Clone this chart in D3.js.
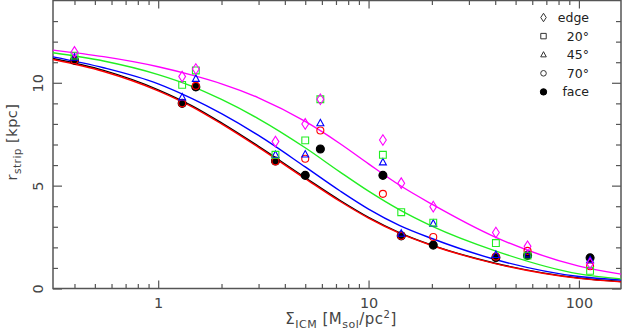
<html>
<head>
<meta charset="utf-8">
<script src="https://cdn.jsdelivr.net/npm/d3@7"></script>
<style>
body { margin: 0; background: #ffffff; }
svg { display: block; }
text { font-family: "DejaVu Sans", sans-serif; fill: #444444; }
.tick line { stroke: #555555; stroke-width: 1.2; }
.axis text { font-size: 14.4px; }
.legend text { font-size: 12.5px; fill: #222222; }
</style>
</head>
<body>
<div class="target"></div>
<script>
// measured points: surface density of ICM (M_sol/pc^2) and stripping radius (kpc)
var sigmaICM = [0.40, 1.30, 1.51, 3.61, 5.0, 5.9, 11.7, 14.3, 20.3, 40.3, 57, 113];
var rEdge = [11.50, 10.30, 10.67, 7.14, 8.00, 9.20, 7.22, 5.12, 3.98, 2.72, 2.05, 1.22];
var r20 = [11.32, 9.90, 10.60, 6.50, 7.20, 9.20, 6.50, 3.71, 3.20, 2.21, 1.60, 0.86];
var r45 = [11.23, 9.30, 10.20, 6.50, 6.52, 8.04, 6.14, 2.67, 3.16, 1.64, 1.66, 1.38];
var r70 = [11.10, 9.00, 9.85, 6.18, 6.31, 7.68, 4.60, 2.56, 2.50, 1.55, 1.83, 1.08];
var rFace = [11.10, 9.00, 9.80, 6.20, 5.50, 6.78, 5.50, 2.56, 2.11, 1.51, 1.61, 1.49];

var fitSigma = [0.3162, 0.55, 1, 1.45, 2, 3, 5, 7.3, 10, 14, 20, 40, 100, 158.5];
var fitEdge = [11.59, 11.27, 10.78, 10.37, 9.95, 9.27, 8.12, 7.05, 6.06, 5.03, 4.10, 2.50, 1.09, 0.70];
var fit20 = [11.46, 11.06, 10.40, 9.83, 9.19, 8.25, 6.84, 5.67, 4.73, 3.83, 3.03, 1.83, 0.71, 0.47];
var fit45 = [11.26, 10.73, 9.95, 9.23, 8.50, 7.44, 5.91, 4.75, 3.86, 3.07, 2.43, 1.41, 0.58, 0.41];
var fit70 = [11.13, 10.55, 9.61, 8.83, 8.00, 6.86, 5.34, 4.24, 3.42, 2.69, 2.09, 1.21, 0.49, 0.32];
var fitFace = [11.18, 10.60, 9.66, 8.88, 8.05, 6.91, 5.39, 4.29, 3.46, 2.72, 2.11, 1.23, 0.51, 0.34];

var legendLabels = ["edge", "20°", "45°", "70°", "face"];
var xMajor = [1, 10, 100];
var xMinor = [0.4, 0.5, 0.6, 0.7, 0.8, 0.9, 2, 3, 4, 5, 6, 7, 8, 9, 20, 30, 40, 50, 60, 70, 80, 90];
var yMajor = [0, 5, 10];
var yMinor = [1, 2, 3, 4, 6, 7, 8, 9, 11, 12, 13];

var width = 622, height = 336;
var plotL = 53, plotR = 621, plotT = 0.5, plotB = 288.5;

var svg = d3.select(".target").append("svg")
  .attr("width", width)
  .attr("height", height);

var x = d3.scaleLog().domain([0.3162, 158.5]).range([plotL, plotR]);
var y = d3.scaleLinear().domain([0, 14]).range([plotB, plotT]);

// drawn back to front: face first, edge last
var series = [
  {r: rFace, fit: fitFace, color: "#000000", sym: "dot"},
  {r: r70, fit: fit70, color: "#ff0000", sym: "circle"},
  {r: r45, fit: fit45, color: "#0000ff", sym: "triangle"},
  {r: r20, fit: fit20, color: "#22ee22", sym: "square"},
  {r: rEdge, fit: fitEdge, color: "#ff00ff", sym: "diamond"}
];

// axes
function drawAxis(axis, tx, ty, cls) {
  var g = svg.append("g")
    .attr("class", "axis " + cls)
    .attr("transform", "translate(" + tx + "," + ty + ")")
    .call(axis);
  g.select(".domain").remove();
  return g;
}

drawAxis(d3.axisBottom(x).tickValues(xMajor).tickSizeInner(-8).tickSizeOuter(0).tickPadding(9)
  .tickFormat(d3.format("d")), 0, plotB, "xb");
drawAxis(d3.axisBottom(x).tickValues(xMinor).tickSizeInner(-4.5).tickSizeOuter(0).tickFormat(""), 0, plotB, "xbm");
drawAxis(d3.axisTop(x).tickValues(xMajor).tickSizeInner(-8).tickSizeOuter(0).tickFormat(""), 0, plotT, "xt");
drawAxis(d3.axisTop(x).tickValues(xMinor).tickSizeInner(-4.5).tickSizeOuter(0).tickFormat(""), 0, plotT, "xtm");

var yl = drawAxis(d3.axisLeft(y).tickValues(yMajor).tickSizeInner(-9).tickSizeOuter(0), plotL, 0, "yl");
yl.selectAll("text")
  .attr("x", null)
  .attr("dy", null)
  .attr("text-anchor", "middle")
  .attr("transform", "translate(-10,0) rotate(-90)");
drawAxis(d3.axisLeft(y).tickValues(yMinor).tickSizeInner(-5).tickSizeOuter(0).tickFormat(""), plotL, 0, "ylm");
drawAxis(d3.axisRight(y).tickValues(yMajor).tickSizeInner(-9).tickSizeOuter(0).tickFormat(""), plotR, 0, "yr");
drawAxis(d3.axisRight(y).tickValues(yMinor).tickSizeInner(-5).tickSizeOuter(0).tickFormat(""), plotR, 0, "yrm");

svg.append("rect")
  .attr("x", plotL)
  .attr("y", plotT)
  .attr("width", plotR - plotL)
  .attr("height", plotB - plotT)
  .attr("fill", "none")
  .attr("stroke", "#555555")
  .attr("stroke-width", 1.5);

// fitted curves
var line = d3.line()
  .x(function(d) { return x(d[0]); })
  .y(function(d) { return y(d[1]); })
  .curve(d3.curveMonotoneX);

series.forEach(function(s) {
  svg.append("path")
    .datum(d3.zip(fitSigma, s.fit))
    .attr("d", line)
    .attr("fill", "none")
    .attr("stroke", s.color)
    .attr("stroke-width", 1.4);
});

// symbols
function symbolPath(sym, k) {
  k = k || 1;
  if (sym == "diamond") {
    var w = 3.4 * k, h = 5.3 * k;
    return "M0," + (-h) + "L" + w + ",0L0," + h + "L" + (-w) + ",0Z";
  }
  if (sym == "square") {
    var a = 3.4 * k;
    return "M" + (-a) + "," + (-a) + "H" + a + "V" + a + "H" + (-a) + "Z";
  }
  if (sym == "triangle") {
    var tw = 3.5 * k;
    return "M0," + (-3.8 * k) + "L" + tw + "," + (2.7 * k) + "L" + (-tw) + "," + (2.7 * k) + "Z";
  }
  return d3.arc()({innerRadius: 0, outerRadius: (sym == "dot" ? 4 : 3.5) * k, startAngle: 0, endAngle: 2 * Math.PI});
}

series.forEach(function(s) {
  svg.append("g")
    .selectAll("path")
    .data(d3.zip(sigmaICM, s.r))
    .enter()
    .append("path")
      .attr("transform", function(d) { return "translate(" + x(d[0]) + "," + y(d[1]) + ")"; })
      .attr("d", symbolPath(s.sym))
      .attr("fill", s.sym == "dot" ? s.color : "none")
      .attr("stroke", s.color)
      .attr("stroke-width", 1.1);
});

// legend
var legendSyms = ["diamond", "square", "triangle", "circle", "dot"];
var legend = svg.append("g").attr("class", "legend");
legendLabels.forEach(function(lbl, i) {
  var ly = 17.5 + i * 18.6;
  legend.append("path")
    .attr("transform", "translate(543.5," + ly + ")")
    .attr("d", symbolPath(legendSyms[i], 0.8))
    .attr("fill", legendSyms[i] == "dot" ? "#000000" : "none")
    .attr("stroke", legendSyms[i] == "dot" ? "#000000" : "#333333")
    .attr("stroke-width", 1);
  legend.append("text")
    .attr("x", 589)
    .attr("y", ly + 4.5)
    .attr("text-anchor", "end")
    .text(lbl);
});

// axis titles
var xt = svg.append("text")
  .attr("x", 341)
  .attr("y", 324)
  .attr("text-anchor", "middle")
  .style("font-size", "15px")
  .style("letter-spacing", "0.5px");
xt.append("tspan").text("Σ");
xt.append("tspan").attr("dy", 4).style("font-size", "11px").text("ICM");
xt.append("tspan").attr("dy", -4).text(" [M");
xt.append("tspan").attr("dy", 4).style("font-size", "11px").text("sol");
xt.append("tspan").attr("dy", -4).text("/pc");
xt.append("tspan").attr("dy", -6).style("font-size", "10px").text("2");
xt.append("tspan").attr("dy", 6).text("]");

var ytl = svg.append("text")
  .attr("transform", "translate(17,142) rotate(-90)")
  .attr("text-anchor", "middle")
  .style("font-size", "14.5px")
  .style("letter-spacing", "0.5px");
ytl.append("tspan").text("r");
ytl.append("tspan").attr("dy", 4).style("font-size", "10.5px").text("strip");
ytl.append("tspan").attr("dy", -4).text("  [kpc]");
</script>
</body>
</html>
